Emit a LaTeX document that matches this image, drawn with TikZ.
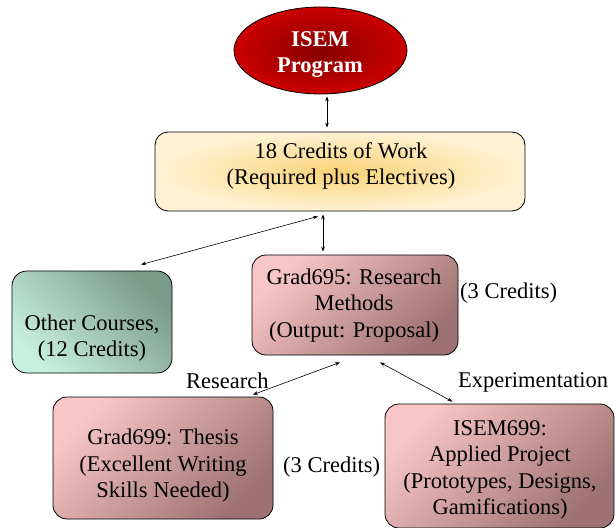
\documentclass[tikz,border=0pt]{standalone}
\usepackage{fontspec}
\setmainfont{Liberation Serif}
\usetikzlibrary{arrows.meta,shapes.geometric}
\definecolor{redin}{HTML}{860000}
\definecolor{redout}{HTML}{CC0000}
\definecolor{goldin}{HTML}{F8D277}
\definecolor{goldout}{HTML}{FFF2D4}
\definecolor{tealdark}{HTML}{7A9A8A}
\definecolor{teallight}{HTML}{C8F0DF}
\definecolor{pinklight}{HTML}{F8C6C6}
\definecolor{pinkdark}{HTML}{9E7272}
\tikzset{
  boxshape/.style={draw=black, line width=0.8pt, rectangle, rounded corners=14pt, inner sep=0pt},
  pinkbox/.style={boxshape, top color=pinklight, bottom color=pinkdark, shading angle=45},
  txt/.style={align=center, inner sep=0pt, font=\fontsize{22.5}{26.5}\selectfont},
  lbl/.style={inner sep=0pt, anchor=base west, font=\fontsize{22.5}{26.5}\selectfont},
  conn/.style={line width=0.6pt, {Stealth[length=5pt,width=3.6pt]}-{Stealth[length=5pt,width=3.6pt]}}
}
\begin{document}
\begin{tikzpicture}[x=1pt,y=-1pt]
\useasboundingbox (0,0) rectangle (615,527);
% ellipse
\node[ellipse, draw=black, line width=0.8pt, minimum width=173pt, minimum height=87pt, inner sep=0pt,
      shading=radial, inner color=redin, outer color=redout] (isem) at (320.5,50.5) {};
\node[txt, text=white, font=\bfseries\fontsize{22.5}{26}\selectfont] (isemT) at (320,55) {ISEM\\Program};
% top box
\node[boxshape, rounded corners=13pt, minimum width=370pt, minimum height=79pt,
      shading=radial, inner color=goldin, outer color=goldout] (top) at (340,171.5) {};
\node[txt] (topT) at (341,166) {18 Credits of Work\\(Required plus Electives)};
% other courses
\node[boxshape, rounded corners=15pt, minimum width=160pt, minimum height=102pt,
      top color=tealdark, bottom color=teallight, shading angle=-45] (other) at (92,322) {};
\node[txt] (otherT) at (92,338) {Other Courses,\\(12 Credits)};
% grad695
\node[pinkbox, minimum width=206pt, minimum height=100pt] (g695) at (355,305) {};
\node[txt] (g695T) at (354,305.5) {Grad695: Research\\Methods\\(Output: Proposal)};
% grad699
\node[pinkbox, minimum width=220pt, minimum height=122pt] (g699) at (163,458) {};
\node[txt] (g699T) at (163,466) {Grad699: Thesis\\(Excellent Writing\\Skills Needed)};
% isem699
\node[pinkbox, minimum width=229pt, minimum height=124pt] (i699) at (499.5,466) {};
\node[txt] (i699T) at (500,470) {ISEM699:\\Applied Project\\(Prototypes, Designs,\\Gamifications)};
% labels
\node[lbl] (cr1) at (460,298) {(3 Credits)};
\node[lbl] (cr2) at (283,472) {(3 Credits)};
\node[lbl] (res) at (186,388) {Research};
\node[lbl] (exp) at (458,387) {Experimentation};
% connectors
\draw[conn] ([xshift=6.5pt,yshift=-2pt]isem.south) -- ([xshift=-13pt,yshift=4pt]top.north);
\draw[conn] ([xshift=-17pt,yshift=-3pt]top.south) -- ([xshift=-32pt,yshift=3pt]g695.north);
\draw[conn] ([xshift=-22pt,yshift=-5pt]top.south) -- ([xshift=49pt,yshift=6pt]other.north);
\draw[conn] ([xshift=-15pt,yshift=-7pt]g695.south) -- ([xshift=90pt,yshift=2pt]g699.north);
\draw[conn] ([xshift=25pt,yshift=-7pt]g695.south) -- ([xshift=-47pt,yshift=2pt]i699.north);
\end{tikzpicture}
\end{document}
